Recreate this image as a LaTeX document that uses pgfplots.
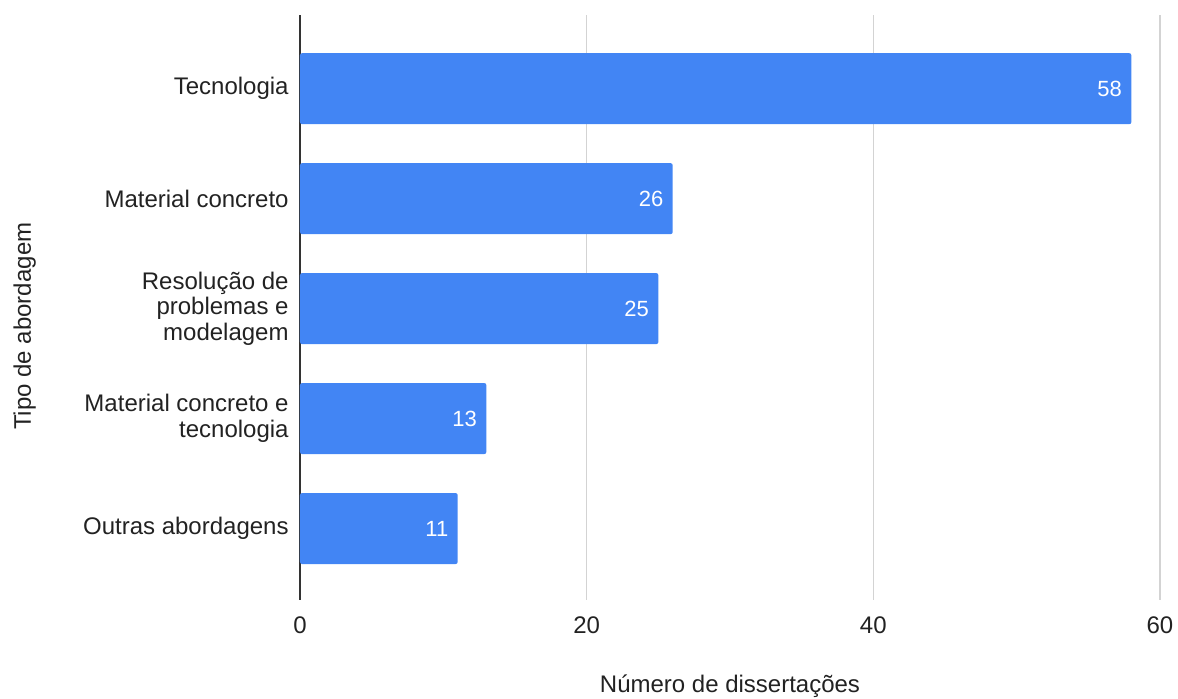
\documentclass[border=0pt]{standalone}
\usepackage{fontspec}
\setmainfont{Liberation Sans}
\usepackage{pgfplots}
\pgfplotsset{compat=1.18}
\definecolor{barblue}{HTML}{4285F4}
\definecolor{gridgray}{HTML}{D3D3D3}
\definecolor{axisgray}{HTML}{333333}
\definecolor{txt}{HTML}{222222}
\begin{document}
\begin{tikzpicture}
\path (-150pt,-49pt) rectangle (439pt,300pt);
\begin{axis}[
  at={(0,0)}, anchor=south west,
  width=430pt, height=292.5pt, scale only axis,
  /pgf/number format/assume math mode=true,
  font=\fontsize{12}{12.8}\selectfont,
  xbar, bar width=0.645,
  xmin=0, xmax=60,
  ymin=-0.67, ymax=4.65, y dir=reverse,
  ytick={0,1,2,3,4},
  yticklabels={Tecnologia, Material concreto, {Resolução de\\problemas e\\modelagem}, {Material concreto e\\tecnologia}, Outras abordagens},
  xtick={0,20,40,60},
  xmajorgrids, grid style={gridgray, line width=0.7pt},
  major tick length=0pt,
  axis x line*=bottom, axis y line*=left,
  x axis line style={draw=none},
  y axis line style={axisgray, line width=0.9pt, -},
  yticklabel style={align=right, inner sep=0pt, xshift=-5.5pt, text=txt},
  xticklabel style={inner sep=0pt, yshift=-8pt, text=txt},
  xlabel={Número de dissertações},
  ylabel={Tipo de abordagem},
  xlabel style={at={(axis description cs:0.5,-0.147)}, anchor=center, inner sep=0pt, text=txt},
  ylabel style={at={(axis description cs:-0.32,0.468)}, anchor=center, inner sep=0pt, text=txt},
  nodes near coords,
  every node near coord/.append style={anchor=east, text=white, font=\fontsize{11}{13}\selectfont, inner xsep=4.5pt, inner ysep=0pt},
]
\addplot[fill=barblue, draw=none, rounded corners=1pt] coordinates {
  (58,0) (26,1) (25,2) (13,3) (11,4)
};
\end{axis}
\end{tikzpicture}
\end{document}
